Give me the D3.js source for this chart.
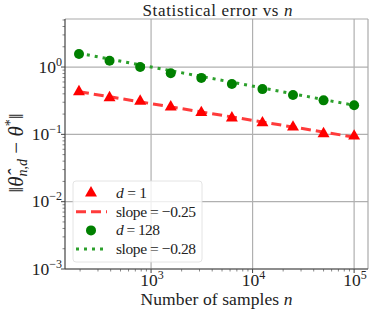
<!DOCTYPE html>
<html>
<head>
<meta charset="utf-8">
<script src="https://cdn.jsdelivr.net/npm/d3@7"></script>
<style>
  body { margin: 0; background: #fff; }
  text { font-family: "Liberation Serif", "DejaVu Serif", serif; fill: #222; }
</style>
</head>
<body>
<script>
// sample sizes (x values)
var nSamples = [195, 390, 781, 1562, 3125, 6250, 12500, 25000, 50000, 100000];
// error for d = 1
var errD1 = [0.43, 0.35, 0.31, 0.255, 0.21, 0.175, 0.148, 0.128, 0.102, 0.094];
// error for d = 128
var errD128 = [1.56, 1.24, 1.0, 0.81, 0.69, 0.56, 0.47, 0.385, 0.32, 0.27];
// fitted lines (endpoints)
var fitN = [195, 100000];
var fitD1 = [0.43, 0.091];
var fitD128 = [1.6, 0.27];
var xTicks = [1e3, 1e4, 1e5];
var yTicks = [1e-3, 1e-2, 1e-1, 1e0];

var margin = {top: 19, right: 6, bottom: 43, left: 65};
var W = 374, H = 312;
var width = W - margin.left - margin.right;
var height = H - margin.top - margin.bottom;

var svg = d3.select("body").append("svg")
    .attr("width", W).attr("height", H);
var g = svg.append("g")
    .attr("transform", "translate(" + margin.left + "," + margin.top + ")");

var x = d3.scaleLog().domain([142, 137000]).range([0, width]);
var y = d3.scaleLog().domain([1e-3, 5.17]).range([height, 0]);

// grid
g.selectAll(".gx").data(xTicks).enter().append("line")
    .attr("x1", d => x(d)).attr("x2", d => x(d))
    .attr("y1", 0).attr("y2", height)
    .attr("stroke", "#b0b0b0").attr("stroke-width", 1.2);
g.selectAll(".gy").data(yTicks).enter().append("line")
    .attr("x1", 0).attr("x2", width)
    .attr("y1", d => y(d)).attr("y2", d => y(d))
    .attr("stroke", "#b0b0b0").attr("stroke-width", 1.2);

// minor ticks
function minors(dom) {
  var out = [];
  var lo = Math.floor(Math.log10(dom[0])), hi = Math.ceil(Math.log10(dom[1]));
  for (var e = lo; e <= hi; e++)
    for (var k = 2; k <= 9; k++) {
      var v = k * Math.pow(10, e);
      if (v >= dom[0] && v <= dom[1]) out.push(v);
    }
  return out;
}
g.selectAll(".mx").data(minors(x.domain())).enter().append("line")
    .attr("x1", d => x(d)).attr("x2", d => x(d))
    .attr("y1", height).attr("y2", height + 2.5)
    .attr("stroke", "#555").attr("stroke-width", 0.7);
g.selectAll(".my").data(minors(y.domain())).enter().append("line")
    .attr("y1", d => y(d)).attr("y2", d => y(d))
    .attr("x1", 0).attr("x2", -2.5)
    .attr("stroke", "#555").attr("stroke-width", 0.7);
g.selectAll(".tx").data(xTicks).enter().append("line")
    .attr("x1", d => x(d)).attr("x2", d => x(d))
    .attr("y1", height).attr("y2", height + 4)
    .attr("stroke", "#444");
g.selectAll(".ty").data(yTicks).enter().append("line")
    .attr("y1", d => y(d)).attr("y2", d => y(d))
    .attr("x1", 0).attr("x2", -4)
    .attr("stroke", "#444");

// spines
g.append("line").attr("x1", 0).attr("x2", width).attr("y1", 0).attr("y2", 0)
    .attr("stroke", "#aaa").attr("stroke-width", 1.2);
g.append("line").attr("x1", width).attr("x2", width).attr("y1", 0).attr("y2", height)
    .attr("stroke", "#aaa").attr("stroke-width", 1.2);
g.append("line").attr("x1", 0).attr("x2", width).attr("y1", height).attr("y2", height)
    .attr("stroke", "#444").attr("stroke-width", 1.2);
g.append("line").attr("x1", 0).attr("x2", 0).attr("y1", 0).attr("y2", height)
    .attr("stroke", "#444").attr("stroke-width", 1.2);

// tick labels
function powLabel(sel, d) {
  var e = Math.round(Math.log10(d));
  sel.append("tspan").text("10");
  sel.append("tspan").attr("dy", -7).attr("font-size", 12)
     .text(e < 0 ? "\u2212" + (-e) : e);
}
g.selectAll(".xl").data(xTicks).enter().append("text")
    .attr("x", d => x(d) + 1).attr("y", height + 17)
    .attr("text-anchor", "middle").attr("font-size", 17.5)
    .each(function(d) { powLabel(d3.select(this), d); });
g.selectAll(".yl").data(yTicks).enter().append("text")
    .attr("x", -3).attr("y", d => y(d) + 5.5)
    .attr("text-anchor", "end").attr("font-size", 17.5)
    .each(function(d) { powLabel(d3.select(this), d); });

// fit lines
var line = d3.line().x(d => x(d[0])).y(d => y(d[1]));
g.append("path").datum(d3.zip(fitN, fitD128))
    .attr("d", line).attr("fill", "none")
    .attr("stroke", "#2ca02c").attr("stroke-width", 3)
    .attr("stroke-dasharray", "3,5");
g.append("path").datum(d3.zip(fitN, fitD1))
    .attr("d", line).attr("fill", "none")
    .attr("stroke", "#ff3b3b").attr("stroke-width", 3)
    .attr("stroke-dasharray", "10,5");

// markers
var tri = d3.symbol().type(d3.symbolTriangle).size(62);
g.selectAll(".p1").data(d3.zip(nSamples, errD1)).enter().append("path")
    .attr("d", tri)
    .attr("transform", d => "translate(" + x(d[0]) + "," + y(d[1]) + ")")
    .attr("fill", "red");
g.selectAll(".p2").data(d3.zip(nSamples, errD128)).enter().append("circle")
    .attr("cx", d => x(d[0])).attr("cy", d => y(d[1])).attr("r", 5)
    .attr("fill", "green");

// legend
var lg = g.append("g").attr("transform", "translate(8,162)");
lg.append("rect").attr("width", 129).attr("height", 81).attr("rx", 3)
    .attr("fill", "white").attr("fill-opacity", 0.8)
    .attr("stroke", "#ddd").attr("stroke-width", 0.8);
var legItems = [
  {kind: "tri", label: ["d", " = 1"], w: 31},
  {kind: "dash", label: ["", "slope = \u22120.25"], w: 80},
  {kind: "dot", label: ["d", " = 128"], w: 44},
  {kind: "dotted", label: ["", "slope = \u22120.28"], w: 80}
];
legItems.forEach(function(it, i) {
  var cy = 12 + i * 18.7;
  if (it.kind === "tri") lg.append("path").attr("d", tri)
      .attr("transform", "translate(18," + cy + ")").attr("fill", "red");
  if (it.kind === "dot") lg.append("circle").attr("cx", 18).attr("cy", cy)
      .attr("r", 5).attr("fill", "green");
  if (it.kind === "dash") lg.append("line").attr("x1", 3).attr("x2", 34)
      .attr("y1", cy).attr("y2", cy).attr("stroke", "#ff3b3b")
      .attr("stroke-width", 3).attr("stroke-dasharray", "10,5");
  if (it.kind === "dotted") lg.append("line").attr("x1", 3).attr("x2", 34)
      .attr("y1", cy).attr("y2", cy).attr("stroke", "#2ca02c")
      .attr("stroke-width", 3).attr("stroke-dasharray", "3,5");
  var t = lg.append("text").attr("x", 43).attr("y", cy + 5).attr("font-size", 15.5)
      .attr("textLength", it.w).attr("lengthAdjust", "spacing");
  if (it.label[0]) t.append("tspan").attr("font-style", "italic").text(it.label[0]);
  t.append("tspan").text(it.label[1]);
});

// title
var tt = svg.append("text").attr("x", margin.left + width / 2 + 1).attr("y", 16)
    .attr("text-anchor", "middle").attr("font-size", 17)
    .attr("textLength", 150).attr("lengthAdjust", "spacing");
tt.append("tspan").text("Statistical error vs ");
tt.append("tspan").attr("font-style", "italic").text("n");

// x label
var xl = svg.append("text").attr("x", margin.left + width / 2).attr("y", 305)
    .attr("text-anchor", "middle").attr("font-size", 17.5)
    .attr("textLength", 152).attr("lengthAdjust", "spacing");
xl.append("tspan").text("Number of samples ");
xl.append("tspan").attr("font-style", "italic").text("n");

// y label
var yl = svg.append("text")
    .attr("transform", "translate(23," + (margin.top + height / 2 + 9) + ") rotate(-90)")
    .attr("text-anchor", "middle").attr("font-size", 21);
yl.append("tspan").text("\u2016");
yl.append("tspan").attr("font-style", "italic").text("\u03b8\u0302");
yl.append("tspan").attr("font-style", "italic").attr("font-size", 14).attr("dy", 4).text("n,d");
yl.append("tspan").attr("dy", -4).text(" \u2212 ");
yl.append("tspan").attr("font-style", "italic").text("\u03b8");
yl.append("tspan").attr("font-size", 14).attr("dy", -8).text("*");
yl.append("tspan").attr("dy", 8).text("\u2016");
</script>
</body>
</html>
